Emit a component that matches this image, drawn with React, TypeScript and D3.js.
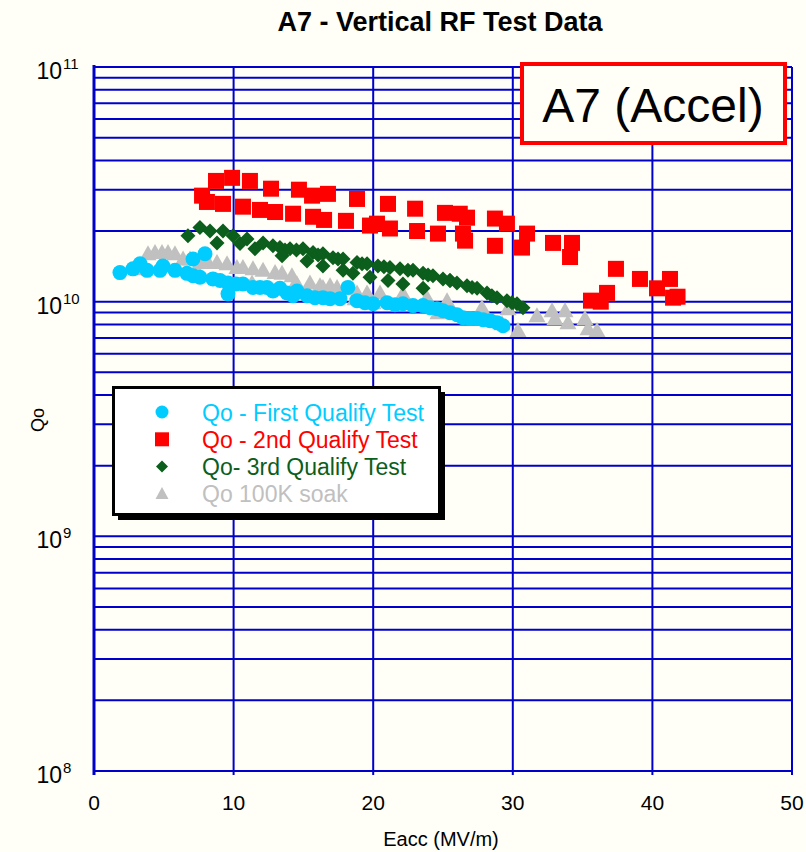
import React from "react";
import * as d3 from "d3";

const firstE = [1.86,2.79,3.30,3.80,4.73,4.94,5.80,6.66,7.09,7.09,7.59,7.95,8.52,9.03,9.60,9.60,10.17,10.67,11.39,11.89,12.39,12.82,13.32,13.83,14.26,14.54,15.26,15.83,16.40,16.91,17.62,18.19,18.84,19.41,19.99,20.99,21.56,22.13,22.85,23.57,24.07,24.57,25.0,25.5,26.0,26.43,26.93,27.44,27.87,28.37,28.87,29.3];
const firstQ = [1.33e10,1.38e10,1.45e10,1.36e10,1.36e10,1.42e10,1.36e10,1.32e10,1.52e10,1.29e10,1.27e10,1.60e10,1.25e10,1.23e10,1.20e10,1.08e10,1.19e10,1.19e10,1.15e10,1.15e10,1.15e10,1.11e10,1.14e10,1.09e10,1.06e10,1.11e10,1.06e10,1.04e10,1.04e10,1.03e10,1.03e10,1.15e10,1.01e10,0.99e10,0.98e10,0.99e10,0.971e10,0.98e10,0.962e10,0.962e10,0.943e10,0.934e10,0.915e10,0.898e10,0.88e10,0.855e10,0.847e10,0.847e10,0.838e10,0.83e10,0.814e10,0.79e10];

const secondE = [7.74,8.09,8.74,9.24,9.89,10.67,11.17,11.89,12.68,12.97,14.26,14.68,15.62,15.69,16.48,16.76,18.05,18.84,19.77,20.27,21.06,21.2,23.0,23.14,24.64,25.14,26.2,26.43,26.72,26.58,28.72,29.58,28.72,30.66,31.02,32.88,34.24,34.1,35.6,36.3,36.75,37.39,39.11,40.33,41.26,41.48,41.8];
const secondQ = [2.83e10,2.66e10,3.27e10,2.61e10,3.37e10,2.54e10,3.27e10,2.46e10,3.03e10,2.41e10,2.37e10,3.0e10,2.83e10,2.30e10,2.23e10,2.88e10,2.21e10,2.74e10,2.11e10,2.15e10,2.61e10,2.05e10,2.49e10,2.0e10,1.95e10,2.39e10,2.37e10,1.95e10,2.28e10,1.82e10,2.26e10,2.15e10,1.73e10,1.70e10,1.95e10,1.78e10,1.78e10,1.55e10,1.01e10,1.0e10,1.09e10,1.38e10,1.25e10,1.14e10,1.25e10,1.04e10,1.05e10];

const thirdE = [6.73,7.59,8.31,8.81,9.24,9.96,10.46,10.96,11.53,12.11,12.82,13.32,13.47,13.68,14.04,14.5,14.97,15.26,15.69,16.05,16.40,16.40,17.12,17.48,17.84,17.84,18.55,18.84,19.2,19.56,19.77,20.34,20.77,21.06,21.2,21.92,22.13,22.49,22.85,23.57,23.57,23.93,24.28,25.0,25.5,25.5,26.0,26.72,27.08,27.44,28.15,28.5,28.87,29.58,29.94,30.3,30.73];
const thirdQ = [1.91e10,2.07e10,2.0e10,1.78e10,2.0e10,1.91e10,1.77e10,1.85e10,1.68e10,1.78e10,1.73e10,1.70e10,1.57e10,1.66e10,1.68e10,1.66e10,1.68e10,1.49e10,1.62e10,1.58e10,1.60e10,1.42e10,1.54e10,1.52e10,1.52e10,1.36e10,1.32e10,1.47e10,1.45e10,1.45e10,1.27e10,1.42e10,1.41e10,1.23e10,1.40e10,1.38e10,1.19e10,1.36e10,1.36e10,1.32e10,1.14e10,1.30e10,1.29e10,1.25e10,1.23e10,1.23e10,1.20e10,1.17e10,1.15e10,1.14e10,1.09e10,1.06e10,1.04e10,1.01e10,0.99e10,0.98e10,0.943e10];

const soakE = [3.65,3.87,4.37,4.73,4.87,5.30,5.80,6.38,6.88,7.38,7.59,8.17,8.81,9.53,10.24,10.67,11.32,11.39,12.11,12.97,13.47,14.18,14.26,14.54,15.47,16.19,16.40,16.91,17.41,18.34,18.7,18.84,19.56,19.99,20.49,22.13,23.85,24.64,25.29,27.79,29.23,29.66,30.37,31.73,32.81,33.02,33.74,33.95,35.17,35.39,36.03];
const soakQ = [1.38e10,1.60e10,1.62e10,1.42e10,1.62e10,1.62e10,1.60e10,1.52e10,1.52e10,1.36e10,1.47e10,1.47e10,1.47e10,1.45e10,1.40e10,1.40e10,1.20e10,1.38e10,1.36e10,1.33e10,1.32e10,1.29e10,1.15e10,1.19e10,1.20e10,1.17e10,1.15e10,1.17e10,1.15e10,1.14e10,1.03e10,1.09e10,1.09e10,0.99e10,1.09e10,1.08e10,1.04e10,0.898e10,1.01e10,0.943e10,0.806e10,0.934e10,0.753e10,0.872e10,0.915e10,0.847e10,0.915e10,0.814e10,0.847e10,0.767e10,0.753e10];

const xTicks = [0, 10, 20, 30, 40, 50];
const yDecades = [8, 9, 10, 11];
const legendLabels = ["Qo - First Qualify Test", "Qo - 2nd Qualify Test", "Qo- 3rd Qualify Test", "Qo 100K soak"];

const W = 806, H = 852;
const L = 94, R = 792, T = 67, B = 771;
const GRID = "#0000cc";
const C_BLUE = "#00ccff", C_RED = "#ff0000", C_GREEN = "#0b5e1c", C_GRAY = "#c0c0c0";
const FONT = "'Liberation Sans', Arial, sans-serif";

function Marker({ kind, x, y, color }: { kind: string; x: number; y: number; color: string }) {
  if (kind === "circle") return <circle cx={x} cy={y} r={7.5} fill={color} />;
  if (kind === "square") return <rect x={x - 8} y={y - 8} width={16} height={16} fill={color} />;
  if (kind === "diamond") return <path d={`M${x},${y - 7.5}L${x + 7.5},${y}L${x},${y + 7.5}L${x - 7.5},${y}Z`} fill={color} />;
  return <path d={`M${x},${y - 8.5}L${x + 8.5},${y + 6.5}L${x - 8.5},${y + 6.5}Z`} fill={color} />;
}

export default function App() {
  const x = d3.scaleLinear().domain([0, 50]).range([L, R]);
  const y = d3.scaleLog().domain([1e8, 1e11]).range([B, T]);

  const minor: number[] = [];
  for (let d = 8; d < 11; d++) for (let m = 1; m <= 9; m++) minor.push(m * Math.pow(10, d));
  minor.push(1e11);

  const series = [
    { e: soakE, q: soakQ, kind: "triangle", color: C_GRAY },
    { e: firstE, q: firstQ, kind: "circle", color: C_BLUE },
    { e: secondE, q: secondQ, kind: "square", color: C_RED },
    { e: thirdE, q: thirdQ, kind: "diamond", color: C_GREEN },
  ];
  const legendColors = [C_BLUE, C_RED, C_GREEN, C_GRAY];
  const rowY = (i: number) => 412 + i * 27.3;

  return (
    <svg width={W} height={H} style={{ position: "absolute", left: 0, top: 0, background: "#fffff7" }} fontFamily={FONT}>
      <rect x={0} y={0} width={W} height={H} fill="#fffff7" />
      <text x={440} y={31} textAnchor="middle" fontSize={27} fontWeight="bold" fill="#000">A7 - Vertical RF Test Data</text>
      {minor.map((v, i) => (
        <line key={"h" + i} x1={L} x2={R} y1={y(v)} y2={y(v)} stroke={GRID} strokeWidth={2} />
      ))}
      {xTicks.map((t) => (
        <line key={"v" + t} x1={x(t)} x2={x(t)} y1={T} y2={B + 4} stroke={GRID} strokeWidth={2} />
      ))}
      <line x1={L} x2={L} y1={T - 2} y2={B + 4} stroke={GRID} strokeWidth={3} />
      {xTicks.map((t) => (
        <text key={"xl" + t} x={x(t)} y={810} textAnchor="middle" fontSize={21} fill="#000">{t}</text>
      ))}
      {yDecades.map((d) => (
        <g key={"yl" + d}>
          <text x={62} y={y(Math.pow(10, d)) + 12} textAnchor="end" fontSize={23} fill="#000">10</text>
          <text x={63} y={y(Math.pow(10, d)) + 2} textAnchor="start" fontSize={15} fill="#000">{d}</text>
        </g>
      ))}
      <text x={441} y={846} textAnchor="middle" fontSize={20} fill="#000">Eacc (MV/m)</text>
      <text transform={`translate(44,420) rotate(-90)`} textAnchor="middle" fontSize={18} fill="#000">Qo</text>

      {series.map((s, si) => (
        <g key={"s" + si}>
          {s.e.map((e, i) => (
            <Marker key={i} kind={s.kind} x={x(e)} y={y(s.q[i])} color={s.color} />
          ))}
        </g>
      ))}

      <rect x={118} y={392} width={327} height={128} fill="#000" />
      <rect x={113.5} y={387.5} width={326} height={127} fill="#fff" stroke="#000" strokeWidth={3} />
      {legendLabels.map((lab, i) => (
        <g key={"lg" + i}>
          {i === 0 ? <circle cx={162} cy={rowY(0)} r={6.5} fill={legendColors[i]} /> :
            i === 1 ? <rect x={155} y={rowY(1) - 7} width={14} height={14} fill={legendColors[i]} /> :
            i === 2 ? <path d={`M162,${rowY(2) - 6}L168,${rowY(2)}L162,${rowY(2) + 6}L156,${rowY(2)}Z`} fill={legendColors[i]} /> :
            <path d={`M162,${rowY(3) - 7}L168.5,${rowY(3) + 5}L155.5,${rowY(3) + 5}Z`} fill={legendColors[i]} />}
          <text x={202} y={rowY(i) + 8.5} fontSize={23} fill={legendColors[i]}>{lab}</text>
        </g>
      ))}

      <rect x={522} y={64} width={263} height={79} fill="#fffff7" stroke="#ff0000" strokeWidth={4} />
      <text x={653} y={122} textAnchor="middle" fontSize={48} fill="#000">A7 (Accel)</text>
    </svg>
  );
}
